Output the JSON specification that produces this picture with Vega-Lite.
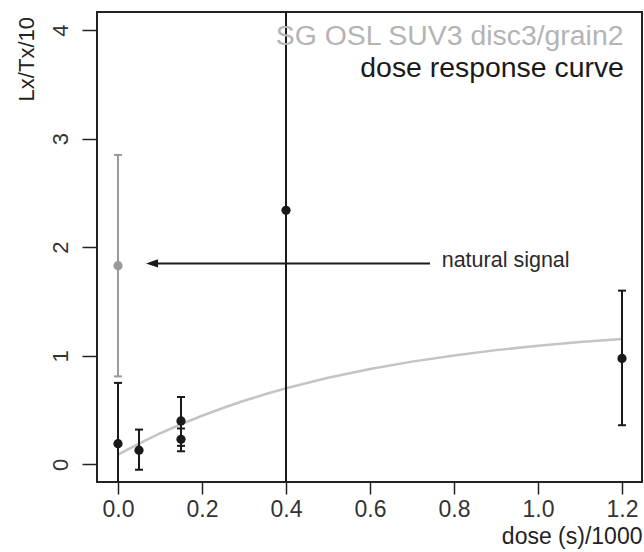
{
  "$schema": "https://vega.github.io/schema/vega-lite/v6.json",
  "autosize": {"type": "none"},
  "padding": {"left": 97, "top": 12, "right": 2, "bottom": 70},
  "width": 545,
  "height": 470,
  "background": "white",
  "datasets": {
    "curve": [
      {"dose": 0.0, "lxtx": 0.09},
      {"dose": 0.05, "lxtx": 0.191},
      {"dose": 0.1, "lxtx": 0.284},
      {"dose": 0.15, "lxtx": 0.369},
      {"dose": 0.2, "lxtx": 0.447},
      {"dose": 0.25, "lxtx": 0.519},
      {"dose": 0.3, "lxtx": 0.585},
      {"dose": 0.35, "lxtx": 0.645},
      {"dose": 0.4, "lxtx": 0.7},
      {"dose": 0.5, "lxtx": 0.797},
      {"dose": 0.6, "lxtx": 0.878},
      {"dose": 0.7, "lxtx": 0.946},
      {"dose": 0.8, "lxtx": 1.003},
      {"dose": 0.9, "lxtx": 1.052},
      {"dose": 1.0, "lxtx": 1.092},
      {"dose": 1.1, "lxtx": 1.126},
      {"dose": 1.2, "lxtx": 1.155}
    ],
    "points": [
      {"dose": 0.0, "lxtx": 1.83, "lo": 0.81, "hi": 2.85, "type": "natural"},
      {"dose": 0.0, "lxtx": 0.19, "lo": -0.6, "hi": 0.75, "type": "regenerated"},
      {"dose": 0.05, "lxtx": 0.13, "lo": -0.05, "hi": 0.32, "type": "regenerated"},
      {"dose": 0.15, "lxtx": 0.4, "lo": 0.17, "hi": 0.62, "type": "regenerated"},
      {"dose": 0.15, "lxtx": 0.23, "lo": 0.12, "hi": 0.33, "type": "regenerated"},
      {"dose": 0.4, "lxtx": 2.34, "lo": -2.5, "hi": 7.2, "type": "regenerated"},
      {"dose": 1.2, "lxtx": 0.975, "lo": 0.36, "hi": 1.6, "type": "regenerated"}
    ],
    "anno": [{"note": "natural signal"}]
  },
  "config": {
    "view": {"stroke": "#222222", "strokeWidth": 2},
    "font": "Liberation Sans",
    "axis": {
      "grid": false,
      "domain": false,
      "tickColor": "#222222",
      "tickWidth": 1.5,
      "labelColor": "#333333",
      "titleColor": "#222222",
      "labelFont": "Liberation Sans",
      "titleFont": "Liberation Sans",
      "titleFontWeight": "normal"
    }
  },
  "layer": [
    {
      "data": {"name": "curve"},
      "mark": {"type": "line", "color": "#c4c4c4", "strokeWidth": 2.5, "clip": true},
      "encoding": {
        "x": {
          "field": "dose",
          "type": "quantitative",
          "scale": {"domain": [-0.05, 1.2476], "nice": false, "zero": false},
          "axis": {
            "values": [0, 0.2, 0.4, 0.6, 0.8, 1.0, 1.2],
            "format": ".1f",
            "tickSize": 12,
            "labelPadding": 4,
            "labelFontSize": 23,
            "labelFlush": false,
            "labelOverlap": false,
            "title": "dose (s)/1000",
            "titleFontSize": 23,
            "titleAlign": "right",
            "titleBaseline": "alphabetic",
            "titleX": 545,
            "titleY": 61
          }
        },
        "y": {
          "field": "lxtx",
          "type": "quantitative",
          "scale": {"domain": [-0.163, 4.167], "nice": false, "zero": false},
          "axis": {
            "values": [0, 1, 2, 3, 4],
            "format": "d",
            "tickSize": 15,
            "labelPadding": 15,
            "labelFontSize": 22,
            "labelAngle": 270,
            "labelAlign": "center",
            "labelBaseline": "alphabetic",
            "title": "Lx/Tx/10",
            "titleFontSize": 22,
            "titleAngle": 270,
            "titleAlign": "right",
            "titleBaseline": "alphabetic",
            "titleX": -64,
            "titleY": 4.5
          }
        }
      }
    },
    {
      "data": {"name": "points"},
      "mark": {"type": "rule", "strokeWidth": 2, "clip": true},
      "encoding": {
        "x": {"field": "dose", "type": "quantitative"},
        "y": {"field": "lo", "type": "quantitative"},
        "y2": {"field": "hi"},
        "color": {"field": "type", "type": "nominal", "scale": {"domain": ["natural", "regenerated"], "range": ["#9a9a9a", "#1a1a1a"]}, "legend": null}
      }
    },
    {
      "data": {"name": "points"},
      "transform": [{"fold": ["lo", "hi"], "as": ["end", "lxtx"]}],
      "mark": {"type": "point", "shape": "stroke", "filled": false, "size": 64, "strokeWidth": 2, "opacity": 1, "clip": true},
      "encoding": {
        "x": {"field": "dose", "type": "quantitative"},
        "y": {"field": "lxtx", "type": "quantitative"},
        "color": {"field": "type", "type": "nominal", "legend": null}
      }
    },
    {
      "data": {"name": "points"},
      "mark": {"type": "point", "shape": "circle", "filled": true, "size": 85, "opacity": 1, "clip": true},
      "encoding": {
        "x": {"field": "dose", "type": "quantitative"},
        "y": {"field": "lxtx", "type": "quantitative"},
        "color": {"field": "type", "type": "nominal", "legend": null}
      }
    },
    {
      "data": {"name": "anno"},
      "mark": {"type": "rule", "color": "#1a1a1a", "strokeWidth": 2},
      "encoding": {
        "x": {"datum": 0.075},
        "x2": {"datum": 0.7429},
        "y": {"datum": 1.851}
      }
    },
    {
      "data": {"name": "anno"},
      "mark": {"type": "point", "shape": "M-1,0L1,-0.67L1,0.67Z", "filled": true, "size": 144, "color": "#1a1a1a", "opacity": 1},
      "encoding": {
        "x": {"datum": 0.081},
        "y": {"datum": 1.851}
      }
    },
    {
      "data": {"name": "anno"},
      "mark": {"type": "text", "align": "left", "baseline": "alphabetic", "fontSize": 21.5, "color": "#2a2a2a", "font": "Liberation Sans"},
      "encoding": {
        "x": {"datum": 0.7707},
        "y": {"datum": 1.8175},
        "text": {"field": "note"}
      }
    },
    {
      "data": {"name": "anno"},
      "mark": {"type": "text", "text": "SG OSL SUV3 disc3/grain2", "align": "right", "baseline": "alphabetic", "fontSize": 28.4, "color": "#b4b4b4", "font": "Liberation Sans"},
      "encoding": {
        "x": {"datum": 1.2036},
        "y": {"datum": 3.864}
      }
    },
    {
      "data": {"name": "anno"},
      "mark": {"type": "text", "text": "dose response curve", "align": "right", "baseline": "alphabetic", "fontSize": 28.4, "color": "#1a1a1a", "font": "Liberation Sans"},
      "encoding": {
        "x": {"datum": 1.2045},
        "y": {"datum": 3.566}
      }
    }
  ]
}
